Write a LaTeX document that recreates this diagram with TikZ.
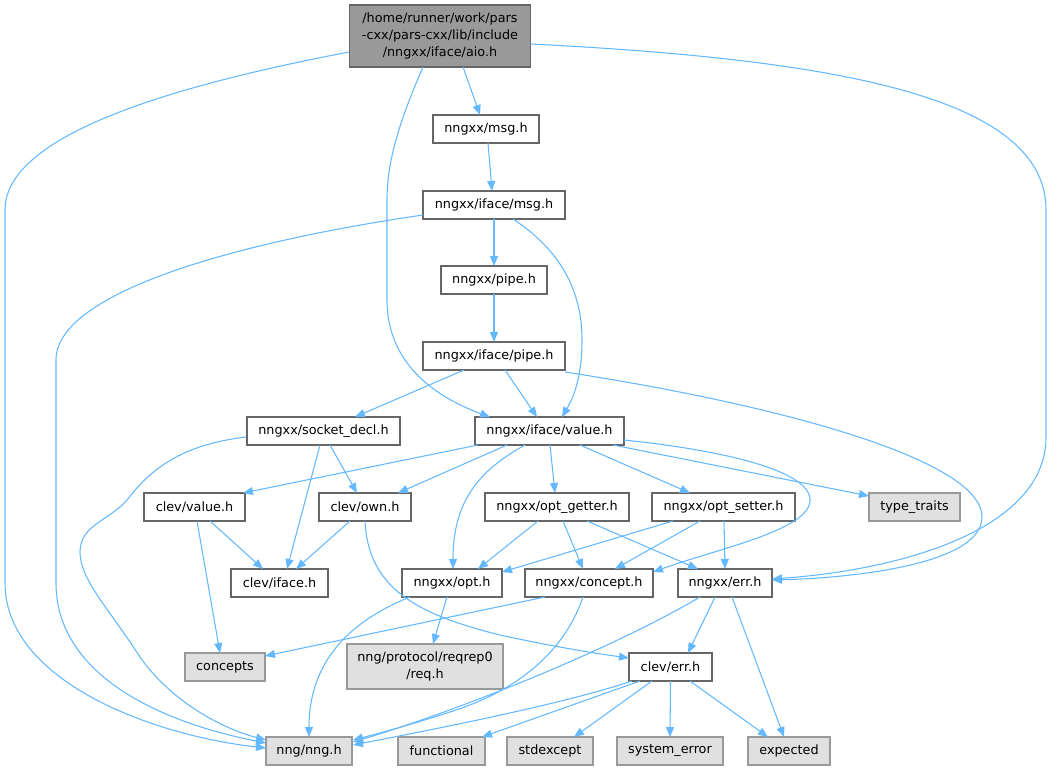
\documentclass[tikz,border=0pt]{standalone}
\usepackage{fontspec}
\setmainfont{DejaVu Sans}
\usetikzlibrary{arrows.meta}
\definecolor{edgeblue}{HTML}{63B8FF}
\definecolor{wborder}{HTML}{666666}
\definecolor{gborder}{HTML}{999999}
\definecolor{gfill}{HTML}{E0E0E0}
\definecolor{mainfill}{HTML}{999999}
\tikzset{
  box/.style={draw=wborder, line width=1pt, fill=white, inner sep=0pt,
    minimum height=28*0.75pt, align=center,
    font=\fontsize{9.6}{12.75}\selectfont},
  sysbox/.style={box, draw=gborder, fill=gfill},
  mainbox/.style={box, draw=wborder, fill=mainfill},
  bw/.style={minimum width=#1*0.75pt},
  dep/.style={draw=edgeblue, line width=0.8pt,
    -{Triangle[length=7.5pt,width=6pt]}},
}
\begin{document}
\begin{tikzpicture}[x=0.75pt,y=-0.75pt]
\useasboundingbox (0,0) rectangle (1053,770);
% nodes
\node[mainbox,bw=181,minimum height=62*0.75pt] (aio) at (440,36) {/home/runner/work/pars\\-cxx/pars-cxx/lib/include\\/nngxx/iface/aio.h};
\node[box,bw=106] (msgh) at (486,129) {nngxx/msg.h};
\node[box,bw=142] (imsg) at (494,205) {nngxx/iface/msg.h};
\node[box,bw=106] (pipeh) at (494,280) {nngxx/pipe.h};
\node[box,bw=142] (ipipe) at (494,356) {nngxx/iface/pipe.h};
\node[box,bw=153] (socket) at (323.5,431) {nngxx/socket\_decl.h};
\node[box,bw=149] (ivalue) at (549.5,431) {nngxx/iface/value.h};
\node[box,bw=101] (cvalue) at (194.5,507) {clev/value.h};
\node[box,bw=92] (cown) at (365,507) {clev/own.h};
\node[box,bw=144] (getter) at (557,507) {nngxx/opt\_getter.h};
\node[box,bw=143] (setter) at (723.5,507) {nngxx/opt\_setter.h};
\node[sysbox,bw=91] (ttraits) at (914.5,507) {type\_traits};
\node[box,bw=97] (ciface) at (279.5,583) {clev/iface.h};
\node[box,bw=100] (opt) at (452,583) {nngxx/opt.h};
\node[box,bw=128] (concept) at (589,583) {nngxx/concept.h};
\node[box,bw=94] (err) at (725,583) {nngxx/err.h};
\node[sysbox,bw=80] (concepts) at (225,667) {concepts};
\node[sysbox,bw=156,minimum height=45*0.75pt] (reqrep) at (425,666.5) {nng/protocol/reqrep0\\/req.h};
\node[box,bw=83] (cerr) at (670.5,667) {clev/err.h};
\node[sysbox,bw=86] (nng) at (309,751) {nng/nng.h};
\node[sysbox,bw=87] (functional) at (441.5,751) {functional};
\node[sysbox,bw=86] (stdexcept) at (550,751) {stdexcept};
\node[sysbox,bw=106] (syserr) at (670,751) {system\_error};
\node[sysbox,bw=82] (expected) at (789,751) {expected};
% edges
\draw[dep] ([shift={(-91,16)}]aio.center) .. controls (150,90) and (5,140) .. (5,210) -- (5,583) .. controls (5,680) and (150,735) .. ([shift={(-43,-3)}]nng.center);
\draw[dep] ([shift={(23,31)}]aio.center) -- ([shift={(-6,-14)}]msgh.center);
\draw[dep] ([shift={(-17,31)}]aio.center) .. controls (400,120) and (387,160) .. (387,200) -- (387,300) .. controls (387,360) and (430,395) .. ([shift={(-59.5,-14)}]ivalue.center);
\draw[dep] ([shift={(90.5,8)}]aio.center) .. controls (850,60) and (1046,100) .. (1046,210) -- (1046,437) .. controls (1046,530) and (900,570) .. ([shift={(47,-4)}]err.center);
\draw[dep] ([shift={(2,14)}]msgh.center) -- ([shift={(-2,-14)}]imsg.center);
\draw[dep] ([shift={(-71,10)}]imsg.center) .. controls (250,240) and (56,290) .. (56,360) -- (56,583) .. controls (56,670) and (150,720) .. ([shift={(-43,-8)}]nng.center);
\draw[dep] ([shift={(0,14)}]imsg.center) -- ([shift={(0,-14)}]pipeh.center);
\draw[dep] ([shift={(19,14)}]imsg.center) .. controls (560,250) and (582,290) .. (582,340) .. controls (582,380) and (572,400) .. ([shift={(12.5,-14)}]ivalue.center);
\draw[dep] ([shift={(0,14)}]pipeh.center) -- ([shift={(0,-14)}]ipipe.center);
\draw[dep] ([shift={(-30,14)}]ipipe.center) -- ([shift={(31.5,-14)}]socket.center);
\draw[dep] ([shift={(11,14)}]ipipe.center) -- ([shift={(-12.5,-14)}]ivalue.center);
\draw[dep] ([shift={(71,16)}]ipipe.center) .. controls (780,405) and (982,460) .. (982,517) .. controls (982,565) and (850,578) .. ([shift={(47,-3)}]err.center);
\draw[dep] ([shift={(-77.5,6)}]socket.center) .. controls (180,445) and (150,470) .. (127,500) .. controls (110,520) and (80,525) .. (80,552) .. controls (80,580) and (110,610) .. (140,657) .. controls (170,700) and (220,728) .. ([shift={(-43,-11)}]nng.center);
\draw[dep] ([shift={(-3.5,14)}]socket.center) -- ([shift={(7.5,-14)}]ciface.center);
\draw[dep] ([shift={(6.5,14)}]socket.center) -- ([shift={(-8,-14)}]cown.center);
\draw[dep] ([shift={(-71.5,14)}]ivalue.center) -- ([shift={(48.5,-14)}]cvalue.center);
\draw[dep] ([shift={(-42.5,14)}]ivalue.center) -- ([shift={(33,-14)}]cown.center);
\draw[dep] ([shift={(-24.5,14)}]ivalue.center) .. controls (480,470) and (453,500) .. ([shift={(1,-14)}]opt.center);
\draw[dep] ([shift={(0.5,14)}]ivalue.center) -- ([shift={(-2,-14)}]getter.center);
\draw[dep] ([shift={(30.5,14)}]ivalue.center) -- ([shift={(-33.5,-14)}]setter.center);
\draw[dep] ([shift={(63.5,14)}]ivalue.center) -- ([shift={(-45.5,-11)}]ttraits.center);
\draw[dep] ([shift={(74.5,9)}]ivalue.center) .. controls (720,450) and (810,470) .. (810,500) .. controls (810,530) and (720,548) .. ([shift={(64,-11)}]concept.center);
\draw[dep] ([shift={(15.5,14)}]cvalue.center) -- ([shift={(-16.5,-14)}]ciface.center);
\draw[dep] ([shift={(2.5,14)}]cvalue.center) -- ([shift={(-5,-14)}]concepts.center);
\draw[dep] ([shift={(-15,14)}]cown.center) -- ([shift={(16.5,-14)}]ciface.center);
\draw[dep] ([shift={(0,14)}]cown.center) .. controls (368,590) and (420,615) .. (500,635) .. controls (560,648) and (600,654) .. ([shift={(-41.5,-9)}]cerr.center);
\draw[dep] ([shift={(-19,14)}]getter.center) -- ([shift={(26,-14)}]opt.center);
\draw[dep] ([shift={(6,14)}]getter.center) -- ([shift={(-6,-14)}]concept.center);
\draw[dep] ([shift={(30,14)}]getter.center) -- ([shift={(-27,-14)}]err.center);
\draw[dep] ([shift={(-50.5,14)}]setter.center) -- ([shift={(50,-11)}]opt.center);
\draw[dep] ([shift={(-23.5,14)}]setter.center) -- ([shift={(26,-14)}]concept.center);
\draw[dep] ([shift={(0.5,14)}]setter.center) -- ([shift={(0,-14)}]err.center);
\draw[dep] ([shift={(-42,14)}]opt.center) .. controls (340,625) and (309,670) .. ([shift={(0,-14)}]nng.center);
\draw[dep] ([shift={(-5,14)}]opt.center) -- ([shift={(8,-22.5)}]reqrep.center);
\draw[dep] ([shift={(-44,14)}]concept.center) -- ([shift={(40,-11)}]concepts.center);
\draw[dep] ([shift={(-6,14)}]concept.center) .. controls (565,650) and (520,690) .. (450,712) .. controls (410,725) and (380,733) .. ([shift={(44,-11)}]nng.center);
\draw[dep] ([shift={(-10,14)}]err.center) -- ([shift={(17.5,-14)}]cerr.center);
\draw[dep] ([shift={(-25,14)}]err.center) .. controls (610,650) and (460,710) .. ([shift={(44,-9)}]nng.center);
\draw[dep] ([shift={(7,14)}]err.center) -- ([shift={(-5,-14)}]expected.center);
\draw[dep] ([shift={(-38.5,14)}]cerr.center) .. controls (560,705) and (430,730) .. ([shift={(44,-6)}]nng.center);
\draw[dep] ([shift={(-30.5,14)}]cerr.center) -- ([shift={(40.5,-14)}]functional.center);
\draw[dep] ([shift={(-18.5,14)}]cerr.center) -- ([shift={(24,-14)}]stdexcept.center);
\draw[dep] ([shift={(0,14)}]cerr.center) -- ([shift={(0,-14)}]syserr.center);
\draw[dep] ([shift={(19.5,14)}]cerr.center) -- ([shift={(-21,-14)}]expected.center);
\end{tikzpicture}
\end{document}
